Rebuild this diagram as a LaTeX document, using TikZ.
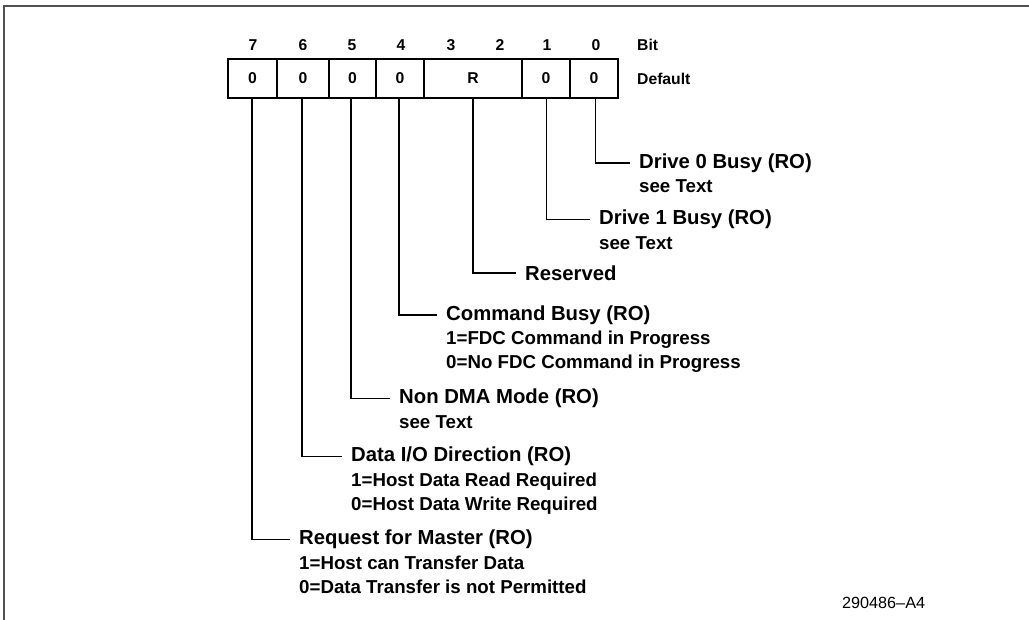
\documentclass[tikz,border=0pt]{standalone}
\usepackage{fontspec}
\setmainfont{Liberation Sans}
\usetikzlibrary{calc}
\definecolor{framegray}{HTML}{505050}
\tikzset{
  cell/.style={draw, line width=2pt, minimum height=39pt, inner sep=0pt, font=\bfseries\fontsize{15.7}{18}\selectfont},
  hdr/.style={inner sep=0pt, font=\bfseries\fontsize{15.7}{18}\selectfont},
  conn/.style={line width=1.7pt},
  title/.style={anchor=west, inner xsep=9pt, inner ysep=0pt, font=\bfseries\fontsize{20.3}{24}\selectfont},
  sub/.style={anchor=base west, inner sep=0pt, font=\bfseries\fontsize{18.7}{24}\selectfont},
}
\begin{document}
\begin{tikzpicture}[x=1pt,y=-1pt]
\useasboundingbox (0,0) rectangle (1029,620);
% frame
\draw[framegray, line width=2pt] (4,620) -- (4,6.5) -- (1029,6.5);
% bit numbers
\node[hdr] (b7) at (253,45) {7};
\node[hdr] (b6) at (303,45) {6};
\node[hdr] (b5) at (352,45) {5};
\node[hdr] (b4) at (401,45) {4};
\node[hdr] (b3) at (451,45) {3};
\node[hdr] (b2) at (500,45) {2};
\node[hdr] (b1) at (547,45) {1};
\node[hdr] (b0) at (596,45) {0};
\node[hdr, anchor=west] (bit) at (637,45) {Bit};
% cells
\node[cell, minimum width=49pt] (c7) at (252.5,78.5) {0};
\node[cell, minimum width=52pt] (c6) at (303,78.5) {0};
\node[cell, minimum width=47pt] (c5) at (352.5,78.5) {0};
\node[cell, minimum width=48pt] (c4) at (400,78.5) {0};
\node[cell, minimum width=98pt] (cR) at (473,78.5) {R};
\node[cell, minimum width=48pt] (c1) at (546,78.5) {0};
\node[cell, minimum width=48pt] (c0) at (594,78.5) {0};
\node[hdr, anchor=west] (def) at (637,79) {Default};
% labels
\node[title] (t0) at (630,163) {Drive 0 Busy (RO)};
\node[sub] (s0a) at ($(t0.base west)+(9,24.4)$) {see Text};
\node[title] (t1) at (590,219.5) {Drive 1 Busy (RO)};
\node[sub] (s1a) at ($(t1.base west)+(9,24.4)$) {see Text};
\node[title] (tR) at (516,273) {Reserved};
\node[title] (t4) at (437,315) {Command Busy (RO)};
\node[sub] (s4a) at ($(t4.base west)+(9,24.4)$) {1=FDC Command in Progress};
\node[sub] (s4b) at ($(t4.base west)+(9,48.6)$) {0=No FDC Command in Progress};
\node[title] (t5) at (390,398.5) {Non DMA Mode (RO)};
\node[sub] (s5a) at ($(t5.base west)+(9,24.4)$) {see Text};
\node[title] (t6) at (342,456.5) {Data I/O Direction (RO)};
\node[sub] (s6a) at ($(t6.base west)+(9,24.4)$) {1=Host Data Read Required};
\node[sub] (s6b) at ($(t6.base west)+(9,48.6)$) {0=Host Data Write Required};
\node[title] (t7) at (290,539.5) {Request for Master (RO)};
\node[sub] (s7a) at ($(t7.base west)+(9,24.4)$) {1=Host can Transfer Data};
\node[sub] (s7b) at ($(t7.base west)+(9,48.6)$) {0=Data Transfer is not Permitted};
% connectors
\draw[conn] ([xshift=1.5pt]c0.south) |- (t0.west);
\draw[conn] ([xshift=0.5pt]c1.south) |- (t1.west);
\draw[conn] (cR.south) |- (tR.west);
\draw[conn] ([xshift=-1pt]c4.south) |- (t4.west);
\draw[conn] ([xshift=-1.5pt]c5.south) |- (t5.west);
\draw[conn] ([xshift=-1pt]c6.south) |- (t6.west);
\draw[conn] ([xshift=-0.5pt]c7.south) |- (t7.west);
% figure number
\node[anchor=west, inner sep=0pt, font=\fontsize{16.2}{18}\selectfont] (fig) at (842,603) {290486--A4};
\end{tikzpicture}
\end{document}
